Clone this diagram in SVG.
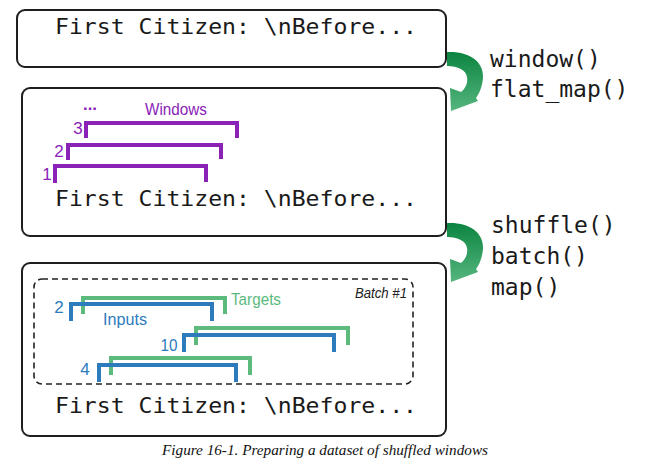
<svg xmlns="http://www.w3.org/2000/svg" width="647" height="466" viewBox="0 0 647 466">
<style>
.box{fill:#fff;stroke:#1e1e1e;stroke-width:2}
.mono{font-family:"DejaVu Sans Mono","Liberation Mono",monospace;font-size:22px;fill:#1a1a1a}
.op{font-size:23px}
.br{fill:none;stroke-width:4;stroke-linejoin:miter;stroke-linecap:butt}
.pur{stroke:#8b22b8}
.blu{stroke:#2d7bbd}
.grn{stroke:#5cba7d}
.lab{font-family:"Liberation Sans","Noto Sans",sans-serif;font-size:17px}
</style>
<defs>
<linearGradient id="ag" x1="0" y1="0" x2="0" y2="1">
<stop offset="0" stop-color="#0c8440"/>
<stop offset="1" stop-color="#55b67e"/>
</linearGradient>
<path id="arrow" d="M447,52 C470,51 484,62 483,78 C482,88 479,94 476,98 L478,101 L451,111 L450,88 L461,92 C466,88 468,82 467,77 C466,70 458,66 447,66 Z" fill="url(#ag)"/>
</defs>
<rect width="647" height="466" fill="#fff"/>
<g id="box1">
<rect class="box" x="17" y="10" width="429" height="57" rx="8"/>
<text class="mono" x="55" y="34" textLength="362" lengthAdjust="spacingAndGlyphs">First Citizen: \nBefore...</text>
</g>
<g id="box2">
<rect class="box" x="22" y="88" width="424" height="148" rx="8"/>
<text class="mono" x="55" y="206" textLength="362" lengthAdjust="spacingAndGlyphs">First Citizen: \nBefore...</text>
<g id="windows">
<path class="br pur" d="M86,138 V123 H237 V138"/>
<path class="br pur" d="M68,160 V145 H221 V159"/>
<path class="br pur" d="M55,183 V166 H206 V182"/>
<text class="lab" x="78" y="134" fill="#8b22b8" text-anchor="middle">3</text>
<text class="lab" x="59" y="157" fill="#8b22b8" text-anchor="middle">2</text>
<text class="lab" x="47" y="180" fill="#8b22b8" text-anchor="middle">1</text>
<text class="lab" x="83" y="110" fill="#8b22b8" font-weight="bold" textLength="14" lengthAdjust="spacingAndGlyphs">...</text>
<text class="lab" x="145" y="115" fill="#8b22b8" textLength="62" lengthAdjust="spacingAndGlyphs">Windows</text>
</g>
</g>
<g id="box3">
<rect class="box" x="22" y="263" width="424" height="173" rx="8"/>
<text class="mono" x="55" y="413" textLength="362" lengthAdjust="spacingAndGlyphs">First Citizen: \nBefore...</text>
<g id="batch">
<rect x="34" y="279" width="379" height="105" rx="8" fill="none" stroke="#222" stroke-width="1.6" stroke-dasharray="6,4"/>
<text x="407" y="298" text-anchor="end" font-family="Liberation Sans,sans-serif" font-style="italic" font-size="14" fill="#222" textLength="52" lengthAdjust="spacingAndGlyphs">Batch #1</text>
<path class="br grn" d="M83,314 V298 H225 V314"/>
<path class="br blu" d="M71,321 V304 H212 V321"/>
<path class="br grn" d="M196,345 V328 H348 V345"/>
<path class="br blu" d="M184,352 V335 H334 V352"/>
<path class="br grn" d="M111,375 V358 H250 V375"/>
<path class="br blu" d="M99,382 V365 H236 V382"/>
<text class="lab" x="59" y="313" fill="#2d7bbd" font-size="19" text-anchor="middle">2</text>
<text class="lab" x="169" y="351" fill="#2d7bbd" font-size="19" text-anchor="middle" textLength="17" lengthAdjust="spacingAndGlyphs">10</text>
<text class="lab" x="85" y="375" fill="#2d7bbd" font-size="19" text-anchor="middle">4</text>
<text class="lab" x="103" y="325" fill="#2d7bbd" textLength="44" lengthAdjust="spacingAndGlyphs">Inputs</text>
<text class="lab" x="231" y="305" fill="#5cba7d" textLength="50" lengthAdjust="spacingAndGlyphs">Targets</text>
</g>
</g>
<g id="connectors">
<use href="#arrow"/>
<use href="#arrow" transform="translate(0,171)"/>
</g>
<g id="ops">
<text class="mono op" x="490" y="67">window()</text>
<text class="mono op" x="490" y="97">flat_map()</text>
<text class="mono op" x="491" y="233">shuffle()</text>
<text class="mono op" x="491" y="264">batch()</text>
<text class="mono op" x="491" y="295">map()</text>
</g>
<text x="162" y="455" font-family="Liberation Serif,serif" font-style="italic" font-size="15" fill="#111" textLength="326" lengthAdjust="spacingAndGlyphs">Figure 16-1. Preparing a dataset of shuffled windows</text>
</svg>
